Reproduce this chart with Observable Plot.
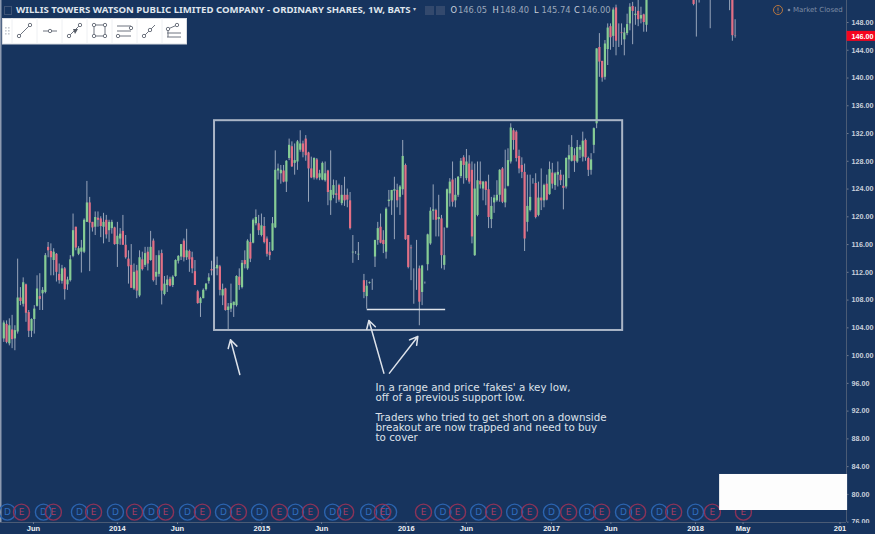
<!DOCTYPE html>
<html><head><meta charset="utf-8">
<script src="https://cdn.jsdelivr.net/npm/d3@7"></script>
<script src="https://cdn.jsdelivr.net/npm/@observablehq/plot@0.6"></script>
<style>
html,body{margin:0;padding:0;background:#17345e;overflow:hidden}
#wrap{position:relative;width:875px;height:534px;overflow:hidden;background:#17345e;font-family:"DejaVu Sans",sans-serif}
.h{position:absolute;white-space:nowrap;line-height:12px}
svg{display:block}
</style></head><body><div id="wrap"></div>
<script>
const N = null;
const opens = [102.4,104.5,101.7,103.7,102.4,103.4,108.3,107.4,110.2,106.2,
103.5,105.2,107.1,108.5,108.9,109.1,115.6,115,113.7,114.6,
111.7,110.7,112.5,110.2,110.8,114.3,118.5,114.6,114.9,114.9,
119.2,122,119.2,118.5,119.8,119.7,118.5,119.5,118,118.3,
118.4,116,116.8,117.9,115.9,113.9,113,109.6,112.2,108.6,
113.8,113,114.9,113.7,116.5,111.3,111.7,114.7,108.8,110.1,
111,110.1,111.4,113.6,114.2,116.5,114.1,115,114.1,112.1,
109.2,107.5,108.2,109.5,110.7,112.4,112.5,112.5,112.8,108.6,
109.6,106.5,106.7,107.2,107.2,111.3,109.8,113.7,112.5,116.3,
116.2,119,119,117.3,118.6,116.8,114.9,115.1,118.4,126.6,
126.2,126.6,125,128.4,130.1,127.7,127.9,129.6,130.5,131.2,
129.2,126.9,125.6,128.2,125.6,125.3,125.2,126.6,122.3,123.1,
123.3,124.5,121.9,123.1,123.1,122.3,114.8,114.9,114.5,N,
110.8,108.5,110.4,110.5,114.2,116.6,118.5,116.6,114.9,122.2,
122.3,123.7,123.8,122.8,123.9,127.4,117.3,115.5,110,115,
112.5,109.1,110.5,113.1,116.1,120.8,120.9,119.6,119.7,113,
118.4,123.3,125.3,122.3,123.1,125.8,128.5,125.5,127.6,126.7,
114.4,120.2,125.1,124,125,123.9,119.6,122,122.3,123.1,
126.9,122,124.4,127.9,132.4,132.2,128.7,127.4,126.4,119.2,
120.9,125.3,124.8,120.2,122.7,122.3,124.7,123.2,126.3,124.5,
126,126,124.4,124.3,128.2,128,128.8,127.9,129.6,128.6,
131,128.4,126.7,130.3,133.4,144.4,142.4,140.1,144.1,147.4,
146,150.1,145.4,146.5,145.5,146.4,147.8,150.3,149,149.6,
148.5,149.1,147.6,N,N,N,N,N,N,N,N,N,N,N,N,N,N,N,N,
152,153,152,N,N,N,153,N,N,N,N,N,N,153,152.5,146.05];
const highs = [105,105,105.3,105.8,104.3,113.9,109.8,111.2,110.3,106.5,
105.3,107.2,111.5,111.8,109.8,114.7,116.3,116.1,115.4,114.7,
113.2,113,112.7,111.3,114.4,120.4,118.5,115.7,116.6,119.7,
125.1,122.8,119.2,120.7,120.7,120,120.5,120.2,119.5,119.5,
118.5,119.2,118.3,120.2,117.3,115.1,116,113.2,113,115.1,
114.9,115.6,115.6,117.9,116.8,114.4,115.1,115.2,111.4,111.5,
111.3,111.5,113.8,114.4,116,116.8,118.2,115.2,114.9,113.7,
109.4,108.4,109.6,110.4,111.8,113.6,113.1,114.2,113,110.3,
109.7,107.5,110.3,107.7,111.5,112.5,113.7,115.1,116.7,117.5,
119.7,121,120.2,120.4,119.9,117.1,116.3,119.9,129.5,127.6,
127.4,127.4,128.1,131.2,130.8,130.5,131,132.4,130.9,131.7,
129.3,128.6,128.5,128.4,126.7,127.9,127.9,126.7,129.5,125.3,
125.2,124.7,124.5,125.7,124,123.5,117.3,115,116.3,N,
111.7,110.8,110.6,111,116.6,119.2,120.4,118,121.3,123.8,
123.8,125.7,124.7,124.5,131,127.6,117.3,115.9,112.5,116.6,
112.9,113,110.6,117.5,121.3,124.6,121.1,123.1,120.2,118.4,
124,125.5,127.9,125.5,125.8,128.4,128.8,129.7,128.8,127.9,
127.6,127.9,127.9,125.1,125.1,126,122.8,123.1,125.2,126.8,
127.1,129.6,129.8,133.4,132.7,132.4,129.6,128.5,127.6,126,
126,125.5,126.2,125,126.9,124.7,126,127.9,127.7,126.4,
127.9,126.7,126,128.5,130.3,131.7,129.8,131,130.3,132.2,
131.2,128.6,129.1,132.8,144.2,146.4,142.4,145.4,147.8,147.8,
150.1,150.5,147.8,147.8,147.2,149.2,150.7,150.9,150.2,151.5,
150.2,149.2,152,N,N,N,N,N,N,N,N,N,N,N,N,N,N,N,N,
153,154,153,N,N,N,154,N,N,N,N,N,N,154,153,148.4];
const lows = [101.9,101.7,101.4,101,100.7,103.1,107.2,107,104.8,102.6,
102.6,103.1,107,106.5,106.5,108.9,114.1,111.5,111.5,110.6,
110.3,110.3,108,109.4,110.6,114.1,115.1,114.4,111.9,114.7,
119.2,112.1,117.8,117.3,118.5,117,116.1,116.8,116.3,117.5,
115.9,112.7,115.9,115.9,113.9,110.3,109.7,109.4,108.2,108.4,
112.2,112.7,112.2,113.6,110.6,110.1,111.3,107.3,108.6,109.1,
109.9,109.8,111.3,113.2,113.7,113.5,113.7,112,111.8,110.1,
107.4,105.5,108.2,109.3,110.3,111.5,112,111.5,108.6,107.2,
106.4,103.7,106.2,105.5,107,109.4,109.6,112.5,112.3,113.4,
116.1,118.7,117.3,117.1,116.1,114.2,113.7,115,118.3,125.3,
124.7,124.9,123.5,128.1,127.1,126,126.7,129.3,128.5,128,
122.1,125.5,125.3,125.3,125.2,125.2,125,121.6,120.2,122.6,
121.9,122.1,121.6,121.5,121.3,118.1,113.3,114.6,113.7,N,
108.2,106.7,110.3,109.4,112.7,115.9,116.1,114.7,113.9,121.4,
120.2,116.7,121.3,120.2,123.1,116.6,112.5,110.8,107.4,109.4,
104.3,107.2,110.3,112.2,115.9,119.5,117.1,117.1,112.5,112.3,
118.3,121.4,121.4,121.3,122.8,125.5,124.7,125.2,124.7,116.1,
114.3,120,124,122.3,121.6,118.3,118.3,120.5,122.1,122.1,
121.9,121.3,124.3,127.6,129.6,127.9,126.2,125.5,115,117.8,
120.7,124.7,119.7,120,120.9,121.3,122.3,123.1,124,123.8,
124.3,124.5,121,124,125.5,127.9,126.4,127.7,128.4,127.9,
128,125.8,126,129.1,132.7,140.1,139.4,139.7,141.8,144,
144.4,143.2,144.4,144.7,143.2,146.1,146.8,144.8,147.6,147.4,
147.8,146.6,146.6,N,N,N,N,N,N,N,N,N,N,N,N,N,N,N,N,
150.4,145.9,150.8,N,N,N,147.1,N,N,N,N,N,N,149.7,145.3,145.74];
const closes = [104.7,101.9,104.3,102.3,103.6,108.3,107.8,110.5,106.1,103.5,
105.2,106.7,109.6,108.1,109.4,114.4,115.1,114.1,114.9,112,
110.8,112.5,109.5,110.9,113.8,118,115.5,115.4,115.5,119.5,
122,119.1,118.4,119.9,119.5,118.6,119.2,117.4,119.2,119.2,
116,117.2,117.5,115.9,114.1,112.8,109.7,112,109.3,114.1,
112.4,114.7,113.2,115.6,110.8,112,114.4,109.3,110.3,110.9,
110,111.3,113.7,114.3,116,114.1,115.1,113.8,112.5,110.1,
107.5,108.2,109.4,110.3,111.2,112.2,112.7,113,109.4,109.5,
106.5,107,107.5,107.7,111.4,110.1,113.3,113.1,116.5,113.9,
119.5,119.9,118,118.7,116.3,114.6,114.4,119,126.7,126.9,
126.7,125,128,130.3,127.2,128.1,130.8,130.5,129.3,128.8,
126.9,125.6,128.4,125.5,126.2,127.7,126.2,123.5,123.8,124.5,
123.1,122.4,123.1,122.3,122.4,118.3,114.9,114.9,114.6,N,
109.1,110,110.5,110.5,116.6,118.3,116.2,116,121.1,122.4,
123.8,123.9,122.3,124.3,128.7,116.7,112.7,115.4,110,115,
107.7,112.9,110.5,117.4,120.8,121,119.5,119.9,114.4,114.4,
123.9,125,122.1,123.1,125.7,128,127.4,127.9,125,117.1,
124,125.2,124.6,125,123.8,119.9,121.5,122.7,123.1,126.7,
122.1,124,128.1,132.8,131,128.4,126.9,126.4,116.8,121.5,
122.8,125.3,119.9,122.7,122.3,124.5,122.4,126.8,124.7,126.2,
126.4,125.2,124.1,128.4,128.8,130,128,130,130,130.9,
128.5,126.7,128.2,132.7,144.2,142.3,140,144.9,147.2,145.8,
149.8,145.3,145.4,146.4,146.5,147.7,150.2,149.6,149.2,148.4,
149,148,151.5,N,N,N,N,N,N,N,N,N,N,N,N,N,N,N,N,
150.6,153,152,N,N,N,153,N,N,N,N,N,N,153,146.1,146];

const dividendWeeks = [1.3,14.3,27.3,40.3,53.3,66.3,79.3,92.3,105.3,118.7,131.7,138.9,158.5,171.4,184.4,197.7,210.7,223.7,236.7,249.7];
const earningsWeeks = [6.4,17.9,32.4,47.2,58.4,71.7,84.7,99.5,110.7,123.4,136.7,151.5,163.8,176.8,189.8,203.9,215.8,228.8,241.8,255.8,267];

const priceTicks = d3.range(76, 149, 4);
const timeTicks = ["2013-06-03","2014-01-01","2014-06-02","2015-01-01","2015-06-01","2016-01-01","2016-06-01","2017-01-02","2017-06-01","2018-01-01","2018-05-01","2019-01-01"];
const timeLabels = ["Jun","2014","Jun","2015","Jun","2016","Jun","2017","Jun","2018","May","201"];

const rangeBox = {x1:76.07,x2:223.4,y1:103.62,y2:133.85};
const supportLine = {x1:131.2,x2:159.5,y:106.65};
const arrows = [
 {x1:85.2,y1:97.28,x2:81.84,y2:102.28},
 {x1:137.2,y1:97.47,x2:131.8,y2:105.06},
 {x1:139.2,y1:97.47,x2:149.46,y2:102.76}];
const noteLines = ["In a range and price 'fakes' a key low,","off of a previous support low.","Traders who tried to get short on a downside","breakout are now trapped and need to buy","to cover"];
const notePrices = [95.36,93.92,91.04,89.54,88.1];
const noteWeek = 134.2;
const lastPrice = 146;

const week = i => new Date(Date.UTC(2013,2,20) + i*7*864e5);
const bars = opens.map((o,i)=>({t:week(i),o,h:highs[i],l:lows[i],c:closes[i]})).filter(d=>d.o!==null);

const BG="#17345e", LINE="#aab5c6", INK="#dde2ea";
const AXFONT="Liberation Sans";
const chart = Plot.plot({
  width:875,height:534,marginLeft:0,marginRight:29,marginTop:0,marginBottom:12,
  style:{background:"transparent",overflow:"visible"},
  x:{type:"utc",domain:[week(-1.19),week(304.2)]},
  y:{domain:[75.95,151.17]},
  marks:[
    Plot.ruleX([week(-1.19)],{stroke:"#8d9ab0",strokeWidth:2}),
    Plot.ruleY([75.95],{stroke:"#4b5b75"}),
    Plot.ruleX([week(304.2)],{stroke:"#4b5b75"}),
    Plot.ruleX(bars,{x:"t",y1:"l",y2:"h",stroke:"#98a5ba",strokeWidth:1,clip:true}),
    Plot.ruleX(bars,{x:"t",y1:"o",y2:"c",stroke:d=>d.c>=d.o?"#86cc94":"#e36f85",strokeWidth:2.2,clip:true}),
    Plot.rect([rangeBox],{x1:d=>week(d.x1),x2:d=>week(d.x2),y1:"y1",y2:"y2",fill:"none",stroke:LINE,strokeWidth:2}),
    Plot.ruleY([supportLine],{x1:d=>week(d.x1),x2:d=>week(d.x2),y:"y",stroke:"#dfe3ea",strokeWidth:1.5}),
    Plot.arrow(arrows,{x1:d=>week(d.x1),y1:"y1",x2:d=>week(d.x2),y2:"y2",stroke:INK,strokeWidth:1.5,headLength:9,bend:0}),
    Plot.text(noteLines,{x:()=>week(noteWeek),y:(d,i)=>notePrices[i],text:d=>d,textAnchor:"start",fill:INK,fontSize:10.3,fontFamily:"DejaVu Sans"}),
    Plot.dot(dividendWeeks,{x:week,y:()=>77.44,r:8,stroke:"#2b63ae",strokeWidth:1.4,fill:"none"}),
    Plot.text(dividendWeeks,{x:week,y:()=>77.44,text:()=>"D",fill:"#2f6cbf",fontSize:9,fontFamily:"DejaVu Sans"}),
    Plot.dot(earningsWeeks,{x:week,y:()=>77.44,r:8,stroke:"#8b3358",strokeWidth:1.4,fill:"none"}),
    Plot.text(earningsWeeks,{x:week,y:()=>77.44,text:()=>"E",fill:"#a83d63",fontSize:9,fontFamily:"DejaVu Sans"}),
    Plot.rect([{x1:258.4,x2:304.6,y1:77.68,y2:82.87}],{x1:d=>week(d.x1),x2:d=>week(d.x2),y1:"y1",y2:"y2",fill:"#fdfdfd"}),
    Plot.axisX({anchor:"bottom",ticks:timeTicks.map(s=>new Date(s)),tickFormat:(d,i)=>timeLabels[i],tickSize:2,tickPadding:1,stroke:"#6d7a90",fill:"#eef1f5",fontSize:7.5,fontWeight:700,fontFamily:AXFONT,label:null}),
    Plot.axisY({anchor:"right",ticks:priceTicks,tickFormat:d=>d.toFixed(2),tickSize:1.5,tickPadding:3.5,stroke:"#6d7a90",fill:"#c9d0db",fontSize:7.2,fontWeight:700,fontFamily:AXFONT,label:null}),
    Plot.rect([lastPrice],{x1:()=>week(304.4),x2:()=>week(315),y1:d=>d-.72,y2:d=>d+.72,fill:"#f4051f"}),
    Plot.text([lastPrice],{x:()=>week(304.2),y:d=>d,dx:5,text:d=>d.toFixed(2),textAnchor:"start",fill:"#fff",fontSize:7.2,fontWeight:700,fontFamily:AXFONT})
  ]
});
const wrap=document.getElementById("wrap");
wrap.appendChild(chart);

function add(html){const t=document.createElement("div");t.innerHTML=html;while(t.firstChild)wrap.appendChild(t.firstChild);}
const hdr=(x,txt,c,extra="")=>`<div class="h" style="left:${x}px;top:4px;color:${c};font-size:8.3px;${extra}">${txt}</div>`;
add(`<div style="position:absolute;left:847px;top:522.5px;width:28px;height:12px;background:${BG}"></div>`);
add(`<div style="position:absolute;left:4px;top:6px;width:8px;height:9px;border:1px solid #3f5476;box-sizing:border-box"></div>`);
add(hdr(16,"WILLIS TOWERS WATSON PUBLIC LIMITED COMPANY - ORDINARY SHARES, 1W, BATS","#dfe4ec","font-weight:700;font-size:9.6px;font-family:'Noto Sans'"));
add(`<div class="h" style="left:413px;top:3px;color:#c9d0db;font-size:6px">▾</div>`);
add(`<div style="position:absolute;left:425px;top:6px;width:9px;height:9px;background:#33496d"></div><div style="position:absolute;left:436px;top:6px;width:9px;height:9px;background:#33496d"></div>`);
[["O",450.5,"146.05"],["H",492.5,"148.40"],["L",534,"145.74"],["C",574,"146.00"]].forEach(([k,x,v])=>{
  add(hdr(x,k,"#c9d0db")); add(hdr(x+7.5,v,"#9ba7ba"));
});
add(`<svg style="position:absolute;left:772px;top:4px" width="20" height="12"><circle cx="6" cy="6" r="4.5" fill="none" stroke="#b8763f" stroke-width="1"/><path d="M6 3.5V6.8M6 7.8V8.8" stroke="#b8763f"/><circle cx="17" cy="6" r="1.3" fill="#7f8da4"/></svg>`);
add(`<div class="h" style="left:793px;top:4px;color:#7c8ba3;font-size:7px">Market Closed</div>`);
const c=(x,y)=>`<circle cx="${x}" cy="${y}" r="1.7" fill="#fff" stroke="#6f7580"/>`;
const l=(a,b,e,f)=>`<path d="M${a} ${b}L${e} ${f}" stroke="#6f7580"/>`;
let icons=[12,37,62,87,112,137,162].map(x=>`<path d="M${x} 18V44" stroke="#eef0f3"/>`).join("");
[5,8].forEach(x=>[27,30,33].forEach(y=>icons+=`<rect x="${x}" y="${y}" width="1.6" height="1.6" fill="#c9cdd3"/>`));
icons+=l(19,36,30,25)+c(19,36)+c(30,25);
icons+=l(43,31,57,31)+c(50,31);
icons+=l(69,36,80,25)+c(69,36)+c(80,25)+`<path d="M73 29L78 29L75 34Z" fill="#565c66"/>`;
icons+=`<rect x="94" y="25" width="11" height="11" fill="none" stroke="#6f7580"/>`+c(94,25)+c(105,25)+c(94,36)+c(105,36);
icons+=l(117,26,131,26)+l(117,31,131,31)+l(117,36,131,36)+c(131,28)+c(118,36);
icons+=l(144,36,155,25)+c(144,36)+c(150,30);
icons+=l(168,29,177,25)+l(167,33,181,33)+l(167,37,181,37)+l(168,29,168,37)+c(177,25)+c(168,29);
add(`<svg style="position:absolute;left:0;top:0" width="200" height="50"><rect x="2.5" y="18.5" width="184" height="25.5" fill="#fff" stroke="#d9dce1"/>${icons}</svg>`);
</script></body></html>
